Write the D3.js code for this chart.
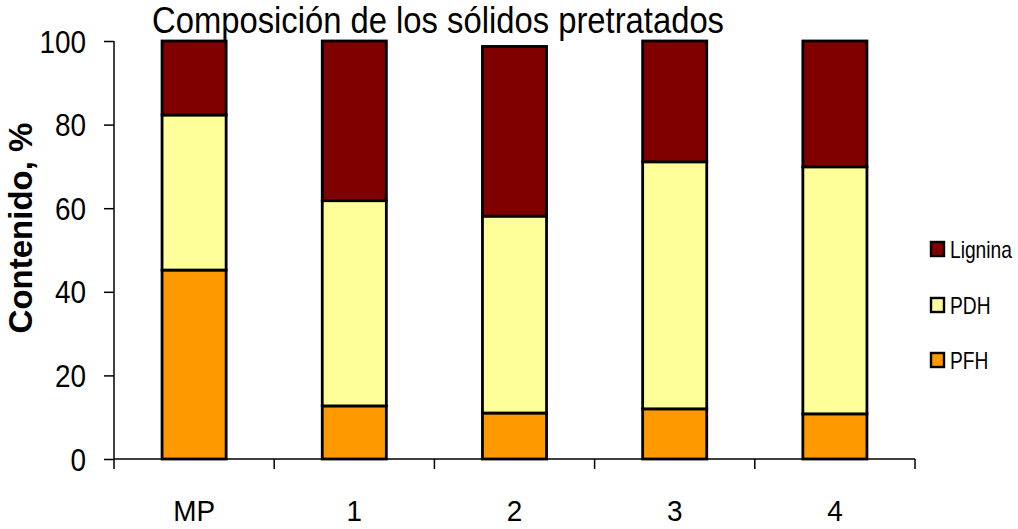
<!DOCTYPE html>
<html>
<head>
<meta charset="utf-8">
<script src="https://cdn.jsdelivr.net/npm/d3@7"></script>
<style>
  html, body { margin: 0; padding: 0; background: #fff; }
  svg { display: block; }
  text { font-family: "Liberation Sans", Arial, sans-serif; fill: #000; }
</style>
</head>
<body>
<svg id="chart" width="1018" height="529"></svg>
<script>
// Stacked composition of pretreated solids (%)
const categories = ["MP", "1", "2", "3", "4"];
const seriesNames = ["PFH", "PDH", "Lignina"];
const pfh     = [45.2, 12.7, 11.0, 12.0, 10.8];
const pdh     = [37.1, 49.1, 47.1, 59.1, 59.1];
const lignina = [17.7, 38.2, 40.6, 28.9, 30.1];
const yTicks  = [0, 20, 40, 60, 80, 100];
const colors  = { PFH: "#FF9900", PDH: "#FFFF99", Lignina: "#800000" };

const rows = categories.map((c, i) => ({ cat: c, PFH: pfh[i], PDH: pdh[i], Lignina: lignina[i] }));
const stacked = d3.stack().keys(seriesNames)(rows);

const svg = d3.select("#chart");
const plotLeft = 114, plotRight = 915, plotTop = 41, plotBottom = 459;

const x = d3.scaleBand().domain(categories).range([plotLeft, plotRight]).paddingInner(0.6).paddingOuter(0.3);
const y = d3.scaleLinear().domain([0, 100]).range([plotBottom, plotTop]);

// narrow the glyphs horizontally by factor k
function condense(sel, k) {
  sel.each(function () {
    const l = this.getComputedTextLength();
    d3.select(this).attr("textLength", l * k).attr("lengthAdjust", "spacingAndGlyphs");
  });
}

// bars
const layers = svg.append("g").selectAll("g").data(stacked).join("g")
  .attr("fill", d => colors[d.key]);
layers.selectAll("rect").data(d => d).join("rect")
  .attr("x", d => x(d.data.cat))
  .attr("width", x.bandwidth())
  .attr("y", d => y(d[1]))
  .attr("height", d => y(d[0]) - y(d[1]))
  .attr("stroke", "#000")
  .attr("stroke-width", 2.8);

// y axis
const yAxis = svg.append("g").attr("transform", `translate(${plotLeft},0)`)
  .call(d3.axisLeft(y).tickValues(yTicks).tickSize(10).tickPadding(18).tickFormat(d3.format("d")));
yAxis.select(".domain").attr("stroke", "#000").attr("stroke-width", 1.5).attr("d", `M0,${plotTop}V${plotBottom}`);
yAxis.selectAll(".tick line").attr("stroke", "#000").attr("stroke-width", 1.5);
yAxis.selectAll(".tick text").style("font-size", "31px").attr("dy", "0.36em").call(condense, 0.9);

// x axis: baseline with tick marks at category boundaries
const step = x.step();
const boundaries = d3.range(categories.length + 1).map(i => Math.min(plotLeft + i * step, plotRight));
const xg = svg.append("g");
xg.append("line").attr("x1", plotLeft).attr("x2", plotRight).attr("y1", plotBottom).attr("y2", plotBottom)
  .attr("stroke", "#000").attr("stroke-width", 1.5);
xg.selectAll("line.tk").data(boundaries).join("line").attr("class", "tk")
  .attr("x1", d => d).attr("x2", d => d).attr("y1", plotBottom).attr("y2", plotBottom + 10)
  .attr("stroke", "#000").attr("stroke-width", 1.5);
xg.selectAll("text").data(categories).join("text")
  .attr("x", d => x(d) + x.bandwidth() / 2)
  .attr("y", 521)
  .attr("text-anchor", "middle")
  .style("font-size", "30px")
  .text(d => d)
  .call(condense, 0.93);

// title
svg.append("text").attr("x", 152).attr("y", 33)
  .style("font-size", "37px")
  .attr("textLength", 572).attr("lengthAdjust", "spacingAndGlyphs")
  .text("Composición de los sólidos pretratados");

// y axis label
svg.append("text")
  .attr("transform", "translate(32,228) rotate(-90)")
  .attr("text-anchor", "middle")
  .style("font-size", "33px").style("font-weight", "bold")
  .text("Contenido, %");

// legend
const legendItems = ["Lignina", "PDH", "PFH"];
const legendY = [249, 305, 360];
const lg = svg.append("g").selectAll("g").data(legendItems).join("g")
  .attr("transform", (d, i) => `translate(930,${legendY[i]})`);
lg.append("rect").attr("x", 1).attr("y", -7).attr("width", 13).attr("height", 14)
  .attr("fill", d => colors[d]).attr("stroke", "#000").attr("stroke-width", 2.4);
lg.append("text")
  .attr("transform", "translate(20,0) scale(0.8,1)")
  .attr("dy", "0.36em")
  .style("font-size", "24px")
  .text(d => d);
</script>
</body>
</html>
